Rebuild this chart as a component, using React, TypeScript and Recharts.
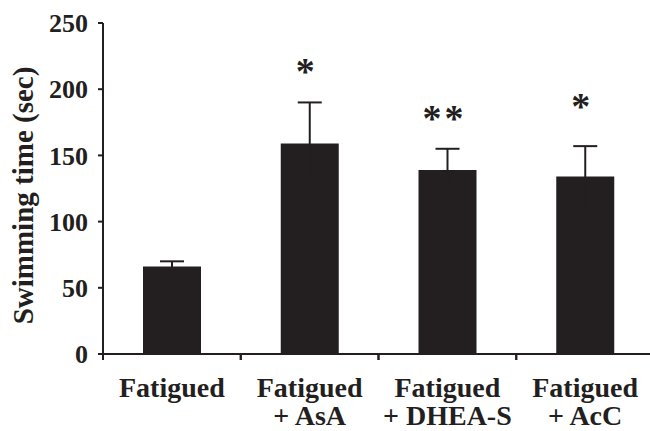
import { BarChart, Bar, XAxis, YAxis, ErrorBar, LabelList } from "recharts"

const CATEGORIES = ["Fatigued", "Fatigued + AsA", "Fatigued + DHEA-S", "Fatigued + AcC"]
const MEANS = [66, 159, 139, 134]
const ERRORS = [4, 31, 16, 23]
const MARKS = ["", "*", "**", "*"]
const Y_TICKS = [0, 50, 100, 150, 200, 250]

const INK = "#231f20"
const FONT = "Liberation Serif"
const textStyle = { fontFamily: FONT, fontWeight: 700 }

// how far each significance mark sits above its error cap (px)
const MARK_GAP = [0, 36, 36, 45]

const data = CATEGORIES.map((name, i) => ({
  name,
  mean: MEANS[i],
  err: ERRORS[i],
  mark: MARKS[i],
}))

const CategoryTick = (props: any) => {
  const { x, y, payload } = props
  const half = payload?.offset ?? 0
  const [line1, line2] = String(payload.value).split(" + ")
  return (
    <g>
      <line x1={x - half} x2={x - half} y1={y} y2={y + 6} stroke={INK} strokeWidth={2} />
      <line x1={x + half} x2={x + half} y1={y} y2={y + 6} stroke={INK} strokeWidth={2} />
      <text x={x} y={y + 43} textAnchor="middle" style={{ ...textStyle, fontSize: 28 }} fill={INK}>
        {line1}
      </text>
      {line2 && (
        <text x={x} y={y + 71} textAnchor="middle" style={{ ...textStyle, fontSize: 28 }} fill={INK}>
          {"+ " + line2}
        </text>
      )}
    </g>
  )
}

const MarkLabel = (props: any) => {
  const { x, y, width, height, index } = props
  const mark = MARKS[index]
  if (!mark) return null
  const perUnit = height / MEANS[index]
  const capY = y - ERRORS[index] * perUnit
  const centerY = capY - MARK_GAP[index]
  return (
    <text
      x={x + width / 2 - 3}
      y={centerY + 18}
      textAnchor="middle"
      style={{ ...textStyle, fontSize: 38, letterSpacing: 3 }}
      fill={INK}
    >
      {mark}
    </text>
  )
}

const YLabel = (props: any) => {
  const { viewBox } = props
  const cy = viewBox.y + viewBox.height / 2 + 7
  return (
    <text
      transform={`translate(33, ${cy}) rotate(-90)`}
      textAnchor="middle"
      style={{ ...textStyle, fontSize: 29 }}
      fill={INK}
    >
      Swimming time (sec)
    </text>
  )
}

export default function App() {
  return (
    <div style={{ width: 650, height: 431, overflow: "hidden", background: "#fff" }}>
      <style>{`body { margin: 0; }`}</style>
      <BarChart
        width={656}
        height={431}
        data={data}
        margin={{ top: 23, right: 2, left: 0, bottom: 0 }}
      >
        <XAxis
          dataKey="name"
          type="category"
          height={77}
          axisLine={{ stroke: INK, strokeWidth: 2 }}
          tickLine={false}
          tickSize={0}
          tickMargin={0}
          interval={0}
          tick={<CategoryTick />}
        />
        <YAxis
          width={103}
          domain={[0, 250]}
          ticks={Y_TICKS}
          interval={0}
          axisLine={{ stroke: INK, strokeWidth: 2 }}
          tickLine={{ stroke: INK, strokeWidth: 2 }}
          tickSize={5}
          tickMargin={10}
          tick={{ fill: INK, style: { ...textStyle, fontSize: 26 } }}
          label={<YLabel />}
        />
        <Bar dataKey="mean" fill={INK} barSize={58} isAnimationActive={false}>
          <ErrorBar dataKey="err" direction="y" width={12} stroke={INK} strokeWidth={2} isAnimationActive={false} />
          <LabelList dataKey="mark" content={<MarkLabel />} />
        </Bar>
      </BarChart>
    </div>
  )
}
